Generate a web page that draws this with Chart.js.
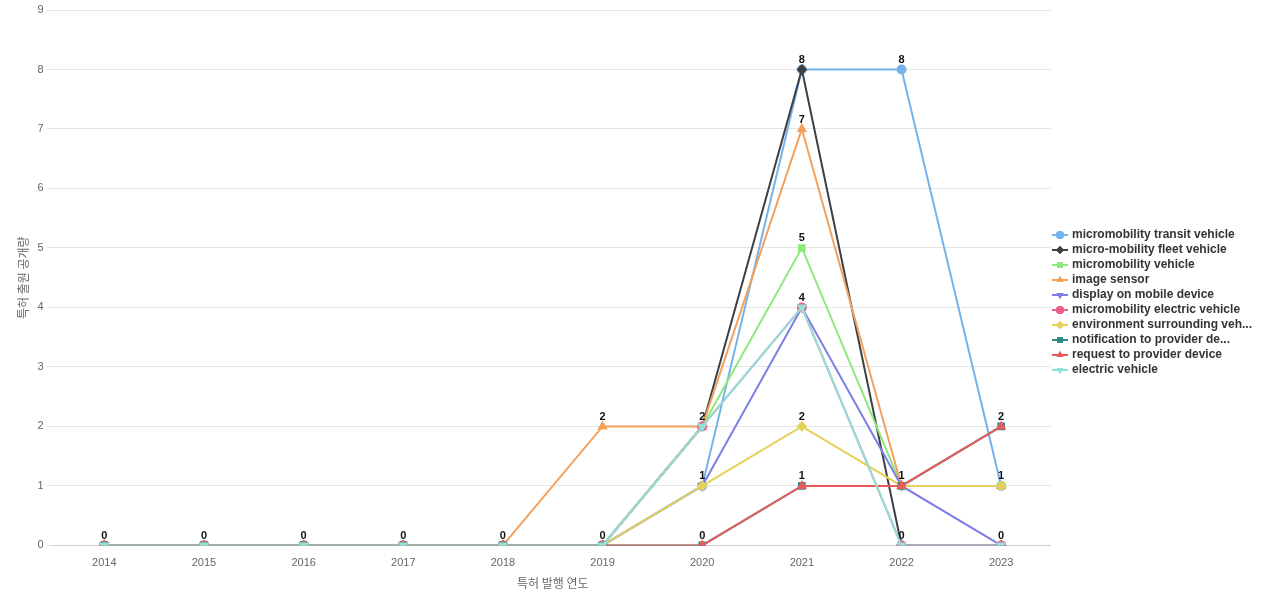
<!DOCTYPE html>
<html><head><meta charset="utf-8">
<script src="https://cdn.jsdelivr.net/npm/chart.js@4"></script>
<style>body{margin:0;background:#fff}#w{width:1280px;height:600px}</style>
</head><body><div id="w"><canvas id="c"></canvas></div>
<script>
const years = ['2014','2015','2016','2017','2018','2019','2020','2021','2022','2023'];
const transit = [0,0,0,0,0,0,1,8,8,1];
const fleet = [0,0,0,0,0,0,2,8,0,0];
const mmVehicle = [0,0,0,0,0,0,2,5,1,1];
const imageSensor = [0,0,0,0,0,2,2,7,1,1];
const display = [0,0,0,0,0,0,1,4,1,0];
const mmElectric = [0,0,0,0,0,0,2,4,0,0];
const environment = [0,0,0,0,0,0,1,2,1,1];
const notification = [0,0,0,0,0,0,0,1,1,2];
const request = [0,0,0,0,0,0,0,1,1,2];
const electric = [0,0,0,0,0,0,2,4,0,0];
const series = [
 ['micromobility transit vehicle', transit, '#74b3ea','circle',0],
 ['micro-mobility fleet vehicle', fleet, '#3d3f45','rectRot',0],
 ['micromobility vehicle', mmVehicle, '#8ee87a','rect',0],
 ['image sensor', imageSensor, '#f4a15d','triangle',0],
 ['display on mobile device', display, '#7c7ee6','triangle',180],
 ['micromobility electric vehicle', mmElectric, '#ee5d85','circle',0],
 ['environment surrounding veh...', environment, '#e4d15a','rectRot',0],
 ['notification to provider de...', notification, '#2a8c88','rect',0],
 ['request to provider device', request, '#e85c5c','triangle',0],
 ['electric vehicle', electric, '#8fe3dc','triangle',180]
];
function legendIcon(color, style, rot){
  const cv=document.createElement('canvas'); cv.width=18; cv.height=10;
  const c=cv.getContext('2d');
  c.strokeStyle=color; c.lineWidth=2; c.beginPath(); c.moveTo(1,5); c.lineTo(17,5); c.stroke();
  c.fillStyle=color;
  Chart.helpers.drawPoint(c,{pointStyle:style,radius:4,rotation:rot,borderWidth:0},9,5);
  c.fill();
  return cv;
}
const labelPlugin = {id:'lbl', afterDatasetsDraw(ch){
  const c=ch.ctx, xs=ch.scales.x, ys=ch.scales.y;
  c.save(); c.font='bold 11px "Liberation Sans", Arial'; c.fillStyle='#111'; c.textAlign='center'; c.textBaseline='bottom';
  years.forEach((y,i)=>{
    const vals=[...new Set(series.map(s=>s[1][i]))];
    vals.forEach(v=>c.fillText(String(v), xs.getPixelForValue(i), ys.getPixelForValue(v)-4));
  });
  c.restore();
}};
new Chart(document.getElementById('c'),{
 type:'line',
 data:{labels:years,datasets:series.map((s,i)=>({label:s[0],data:s[1],borderColor:s[2],backgroundColor:s[2],pointStyle:s[3],
   rotation:s[4],order:10-i,pointRadius:4,borderWidth:2,tension:0}))},
 options:{responsive:true,maintainAspectRatio:false,animation:false,
  layout:{padding:{top:10,right:18,left:12,bottom:5}},
  plugins:{legend:{position:'right',align:'center',labels:{usePointStyle:true,padding:3,color:'#333',font:{size:12,weight:'bold',family:'"Liberation Sans", Arial'},
    generateLabels(ch){return series.map((s,i)=>({text:s[0],pointStyle:legendIcon(s[2],s[3],s[4]),fillStyle:s[2],strokeStyle:s[2],lineWidth:0,datasetIndex:i,fontColor:'#333'}));}
  }},tooltip:{enabled:false}},
  scales:{
   x:{offset:true,grid:{display:false},ticks:{color:'#666',font:{size:11}},title:{display:true,text:'특허 발행 연도',color:'#666',font:{size:12,family:'"Noto Sans CJK KR"'}}},
   y:{min:0,max:9,ticks:{stepSize:1,color:'#666',font:{size:11}},grid:{color:'#e5e5e5'},border:{display:false},title:{display:true,text:'특허 출원 공개량',color:'#666',font:{size:12,family:'"Noto Sans CJK KR"'}}}
  }},
 plugins:[labelPlugin]
});
</script></body></html>
